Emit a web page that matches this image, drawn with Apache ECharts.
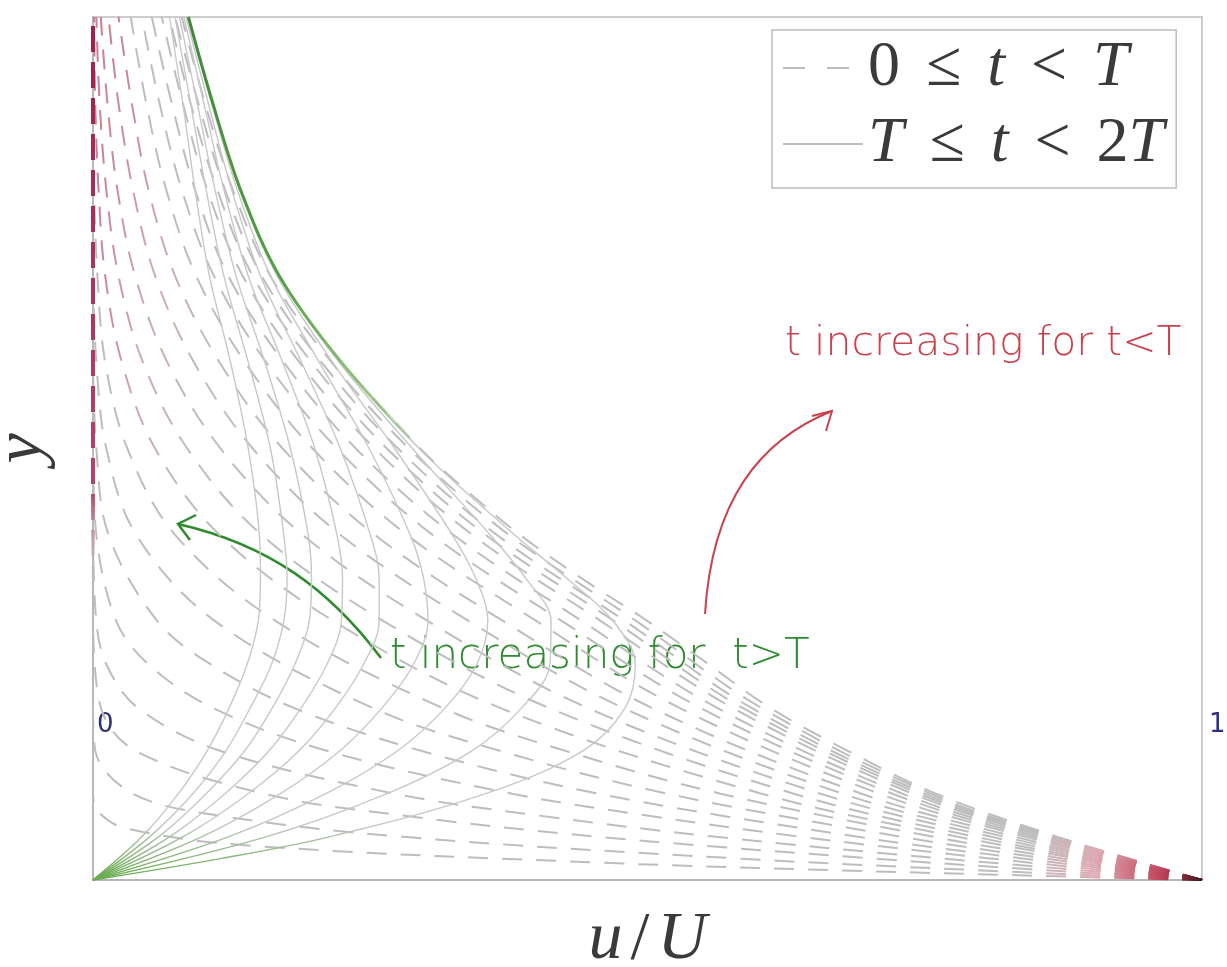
<!DOCTYPE html>
<html>
<head>
<meta charset="utf-8">
<title>u/U profiles</title>
<script src="https://cdn.jsdelivr.net/npm/echarts@6/dist/echarts.min.js"></script>
<style>
  html, body { margin: 0; padding: 0; background: #fff; }
  #chart { width: 1227px; height: 967px; }
</style>
</head>
<body>
<div id="chart"></div>
<script>
// profiles, points are [u/U, y] with y scaled 0..1
// 0 <= t < T (dashed), first one is t = T
const envelope = [[1, 0], [0.87, 0.05], [0.76, 0.1], [0.68, 0.15], [0.61, 0.2], [0.555, 0.25], [0.5, 0.3], [0.44, 0.35], [0.385, 0.4], [0.338, 0.45], [0.295, 0.5], [0.224, 0.6], [0.168, 0.7], [0.133, 0.8], [0.108, 0.9], [0.086, 1]];
const dash01 = [[1, 0], [0.867, 0.05], [0.755, 0.1], [0.602, 0.2], [0.49, 0.3], [0.375, 0.4], [0.285, 0.5], [0.215, 0.6], [0.16, 0.7], [0.126, 0.8], [0.101, 0.9], [0.08, 1]];
const dash02 = [[1, 0], [0.864, 0.05], [0.75, 0.1], [0.593, 0.2], [0.48, 0.3], [0.364, 0.4], [0.275, 0.5], [0.206, 0.6], [0.152, 0.7], [0.119, 0.8], [0.095, 0.9], [0.074, 1]];
const dash03 = [[1, 0], [0.861, 0.05], [0.745, 0.1], [0.585, 0.2], [0.47, 0.3], [0.354, 0.4], [0.265, 0.5], [0.197, 0.6], [0.144, 0.7], [0.112, 0.8], [0.088, 0.9], [0.069, 1]];
const dash04 = [[1, 0], [0.858, 0.05], [0.739, 0.1], [0.576, 0.2], [0.458, 0.3], [0.342, 0.4], [0.254, 0.5], [0.186, 0.6], [0.135, 0.7], [0.103, 0.8], [0.081, 0.9], [0.062, 1]];
const dash05 = [[1, 0], [0.853, 0.05], [0.73, 0.1], [0.562, 0.2], [0.441, 0.3], [0.325, 0.4], [0.237, 0.5], [0.172, 0.6], [0.122, 0.7], [0.092, 0.8], [0.071, 0.9], [0.053, 1]];
const dash06 = [[1, 0], [0.847, 0.05], [0.721, 0.1], [0.547, 0.2], [0.423, 0.3], [0.306, 0.4], [0.22, 0.5], [0.156, 0.6], [0.109, 0.7], [0.08, 0.8], [0.06, 0.9], [0.044, 1]];
const dash07 = [[1, 0], [0.841, 0.05], [0.709, 0.1], [0.528, 0.2], [0.4, 0.3], [0.283, 0.4], [0.198, 0.5], [0.137, 0.6], [0.093, 0.7], [0.066, 0.8], [0.048, 0.9], [0.034, 1]];
const dash08 = [[1, 0], [0.832, 0.05], [0.693, 0.1], [0.503, 0.2], [0.37, 0.3], [0.254, 0.4], [0.171, 0.5], [0.114, 0.6], [0.074, 0.7], [0.05, 0.8], [0.035, 0.9], [0.023, 1]];
const dash09 = [[1, 0], [0.822, 0.05], [0.676, 0.1], [0.477, 0.2], [0.339, 0.3], [0.223, 0.4], [0.144, 0.5], [0.091, 0.6], [0.056, 0.7], [0.036, 0.8], [0.023, 0.9], [0.014, 1]];
const dash10 = [[1, 0], [0.81, 0.05], [0.656, 0.1], [0.445, 0.2], [0.302, 0.3], [0.189, 0.4], [0.115, 0.5], [0.067, 0.6], [0.038, 0.7], [0.022, 0.8], [0.013, 0.9], [0.007, 1]];
const dash11 = [[1, 0], [0.796, 0.05], [0.632, 0.1], [0.41, 0.2], [0.262, 0.3], [0.152, 0.4], [0.085, 0.5], [0.045, 0.6], [0.023, 0.7], [0.012, 0.8], [0.006, 0.9], [0.003, 1]];
const dash12 = [[1, 0], [0.78, 0.05], [0.603, 0.1], [0.366, 0.2], [0.217, 0.3], [0.114, 0.4], [0.056, 0.5], [0.026, 0.6], [0.011, 0.7], [0.005, 0.8], [0.002, 0.9], [0.001, 1]];
const dash13 = [[1, 0], [0.874, 0.025], [0.758, 0.05], [0.566, 0.1], [0.425, 0.15], [0.314, 0.2], [0.165, 0.3], [0.074, 0.4], [0.031, 0.5], [0.011, 0.6], [0.004, 0.7], [0.001, 0.8], [0, 0.9]];
const dash14 = [[1, 0], [0.859, 0.025], [0.729, 0.05], [0.518, 0.1], [0.366, 0.15], [0.251, 0.2], [0.11, 0.3], [0.039, 0.4], [0.012, 0.5], [0.003, 0.6], [0, 0.7]];
const dash15 = [[1, 0], [0.838, 0.025], [0.69, 0.05], [0.456, 0.1], [0.295, 0.15], [0.18, 0.2], [0.106, 0.25], [0.058, 0.3], [0.014, 0.4], [0.003, 0.5], [0, 0.6]];
const dash16 = [[1, 0], [0.809, 0.025], [0.639, 0.05], [0.498, 0.075], [0.378, 0.1], [0.21, 0.15], [0.107, 0.2], [0.05, 0.25], [0.021, 0.3], [0.003, 0.4], [0, 0.5]];
const dash17 = [[1, 0], [0.765, 0.025], [0.562, 0.05], [0.4, 0.075], [0.272, 0.1], [0.114, 0.15], [0.04, 0.2], [0.012, 0.25], [0.003, 0.3], [0, 0.4]];
const dash18 = [[1, 0], [0.845, 0.0125], [0.702, 0.025], [0.456, 0.05], [0.277, 0.075], [0.154, 0.1], [0.038, 0.15], [0.007, 0.2], [0, 0.3]];
const dash19 = [[1, 0], [0.778, 0.0125], [0.58, 0.025], [0.28, 0.05], [0.112, 0.075], [0.036, 0.1], [0.002, 0.15], [0, 0.2]];
const dash20 = [[1, 0], [0.705, 0.01], [0.46, 0.02], [0.14, 0.04], [0.029, 0.06], [0.004, 0.08], [0, 0.1]];
const startProfile = [[0, 0], [0, 1]]; // t = 0

// T <= t < 2T (solid), plate at rest, from late to early
const solid1 = [[0, 0], [0.044, 0.05], [0.077, 0.1], [0.103, 0.15], [0.123, 0.2], [0.139, 0.25], [0.149, 0.3], [0.151, 0.35], [0.15, 0.4], [0.14, 0.5], [0.124, 0.6], [0.105, 0.7], [0.092, 0.8], [0.081, 0.9], [0.069, 1]];
const solid2 = [[0, 0], [0.051, 0.05], [0.09, 0.1], [0.12, 0.15], [0.142, 0.2], [0.161, 0.25], [0.172, 0.3], [0.175, 0.35], [0.172, 0.4], [0.16, 0.5], [0.14, 0.6], [0.118, 0.7], [0.102, 0.8], [0.088, 0.9], [0.074, 1]];
const solid3 = [[0, 0], [0.059, 0.05], [0.102, 0.1], [0.137, 0.15], [0.162, 0.2], [0.182, 0.25], [0.195, 0.3], [0.197, 0.35], [0.194, 0.4], [0.178, 0.5], [0.155, 0.6], [0.129, 0.7], [0.11, 0.8], [0.094, 0.9], [0.078, 1]];
const solid4 = [[0, 0], [0.069, 0.05], [0.119, 0.1], [0.159, 0.15], [0.188, 0.2], [0.211, 0.25], [0.224, 0.3], [0.225, 0.35], [0.22, 0.4], [0.2, 0.5], [0.171, 0.6], [0.14, 0.7], [0.118, 0.8], [0.1, 0.9], [0.082, 1]];
const solid5 = [[0, 0], [0.081, 0.05], [0.14, 0.1], [0.186, 0.15], [0.219, 0.2], [0.244, 0.25], [0.258, 0.3], [0.258, 0.35], [0.25, 0.4], [0.223, 0.5], [0.188, 0.6], [0.151, 0.7], [0.125, 0.8], [0.104, 0.9], [0.084, 1]];
const solid6 = [[0, 0], [0.098, 0.05], [0.169, 0.1], [0.223, 0.15], [0.261, 0.2], [0.289, 0.25], [0.302, 0.3], [0.298, 0.35], [0.286, 0.4], [0.249, 0.5], [0.204, 0.6], [0.16, 0.7], [0.13, 0.8], [0.107, 0.9], [0.086, 1]];
const solid7 = [[0, 0], [0.122, 0.05], [0.21, 0.1], [0.275, 0.15], [0.318, 0.2], [0.346, 0.25], [0.356, 0.3], [0.345, 0.35], [0.324, 0.4], [0.272, 0.5], [0.216, 0.6], [0.166, 0.7], [0.132, 0.8], [0.108, 0.9], [0.086, 1]];
const solid8 = [[0, 0], [0.156, 0.05], [0.265, 0.1], [0.342, 0.15], [0.387, 0.2], [0.412, 0.25], [0.413, 0.3], [0.39, 0.35], [0.358, 0.4], [0.288, 0.5], [0.222, 0.6], [0.168, 0.7], [0.133, 0.8], [0.108, 0.9], [0.086, 1]];
const solid9 = [[0, 0], [0.116, 0.025], [0.213, 0.05], [0.354, 0.1], [0.442, 0.15], [0.48, 0.2], [0.489, 0.25], [0.469, 0.3], [0.427, 0.35], [0.38, 0.4], [0.294, 0.5], [0.224, 0.6], [0.168, 0.7], [0.133, 0.8], [0.108, 0.9], [0.086, 1]];

const legendLabels = ['0 ≤ t < T', 'T ≤ t < 2T'];

const greyDash = '#bdbdbd';
const greySolid = '#c8c8c8';

const chart = echarts.init(document.getElementById('chart'));

function grad(x2, y2, stops) {
    return new echarts.graphic.LinearGradient(0, 0, x2, y2,
        stops.map(([offset, color]) => ({ offset, color })));
}

// pink near the corner, and near the wall at the top for the curves that hug it
function dashColour(pinkLeft) {
    const stops = [];
    if (pinkLeft) stops.push([0, '#c77d8f'], [0.04, '#d0a9b1'], [0.09, greyDash]);
    else stops.push([0, greyDash]);
    stops.push([0.84, greyDash], [0.9, '#dcaab3'], [0.96, '#c2455c'], [1, '#3d1418']);
    return grad(1, 0, stops);
}

const dashedSets = [envelope, dash01, dash02, dash03, dash04, dash05, dash06, dash07, dash08, dash09,
    dash10, dash11, dash12, dash13, dash14, dash15, dash16, dash17, dash18, dash19, dash20];
const solidSets = [solid1, solid2, solid3, solid4, solid5, solid6, solid7, solid8, solid9];

const series = [];
dashedSets.forEach((data, i) => {
    series.push({
        name: legendLabels[0],
        type: 'line',
        data,
        smooth: 0.35,
        symbol: 'none',
        silent: true,
        color: greyDash,
        z: 2,
        lineStyle: { color: dashColour(i >= 8 && i <= 12), width: 2, type: [20, 14] }
    });
});
series.push({
    name: legendLabels[0],
    type: 'line',
    data: startProfile,
    symbol: 'none',
    silent: true,
    color: greyDash,
    z: 3,
    lineStyle: {
        width: 4, type: [26, 10],
        color: grad(0, 1, [[0, '#9e2149'], [0.55, '#b4456a'], [0.66, 'rgba(200,200,200,0)'], [1, 'rgba(200,200,200,0)']])
    }
});
solidSets.forEach((data) => {
    series.push({
        name: legendLabels[1],
        type: 'line',
        data,
        smooth: 0.35,
        symbol: 'none',
        silent: true,
        color: greySolid,
        z: 3,
        lineStyle: {
            width: 1.4,
            color: grad(0, 1, [[0, greySolid], [0.93, greySolid], [1, '#5faa45']])
        }
    });
});
// the t = T profile once the plate stops, green where the later curves pile onto it
series.push({
    name: legendLabels[1],
    type: 'line',
    data: envelope.filter((p) => p[1] >= 0.5),
    smooth: 0.35,
    symbol: 'none',
    silent: true,
    color: greySolid,
    z: 4,
    lineStyle: {
        width: 3,
        color: grad(0, 1, [[0, '#3f8a35'], [0.6, '#52a043'], [0.9, 'rgba(120,190,95,0.6)'], [1, 'rgba(140,200,110,0)']])
    }
});

const hand = '"DejaVu Sans", sans-serif';
const serif = '"Liberation Serif", serif';
const ink = '#3a3a3a';

const option = {
    backgroundColor: '#fff',
    animation: false,
    grid: {
        left: 93, right: 25, top: 17, bottom: 87,
        outerBoundsMode: 'none',
        show: true, borderColor: '#bdbdbd', borderWidth: 1.5
    },
    xAxis: {
        type: 'value', min: 0, max: 1,
        name: '{i|u}{g|}{r|/}{g|}{i|U}',
        nameLocation: 'middle', nameGap: 26,
        nameTextStyle: {
            rich: {
                i: { fontFamily: serif, fontStyle: 'italic', fontSize: 68, color: ink },
                r: { fontFamily: serif, fontSize: 68, color: ink },
                g: { width: 8 }
            }
        },
        axisLine: { show: true, lineStyle: { color: '#b0b0b0', width: 1.5 } },
        axisTick: { show: false }, axisLabel: { show: false }, splitLine: { show: false }
    },
    yAxis: {
        type: 'value', min: 0, max: 1,
        name: 'y',
        nameLocation: 'middle', nameGap: 36,
        nameTextStyle: { fontFamily: serif, fontStyle: 'italic', fontSize: 68, color: ink },
        axisLine: { show: true, lineStyle: { color: '#b0b0b0', width: 1.5 } },
        axisTick: { show: false }, axisLabel: { show: false }, splitLine: { show: false }
    },
    legend: {
        orient: 'vertical',
        left: 772, top: 30,
        padding: [6, 12, 12, 10],
        itemGap: 12,
        itemWidth: 80, itemHeight: 16,
        selectedMode: false,
        borderColor: '#bdbdbd', borderWidth: 1.5,
        backgroundColor: '#fff',
        itemStyle: { opacity: 0 },
        data: [
            { name: legendLabels[0], itemStyle: { opacity: 0 }, lineStyle: { color: greyDash, width: 2, type: [22, 22] } },
            { name: legendLabels[1], itemStyle: { opacity: 0 }, lineStyle: { color: greyDash, width: 2, type: 'solid' } }
        ],
        formatter: (name) => name === legendLabels[0]
            ? '{r|0}{g|}{r|≤}{g|}{i|t}{g|}{r|<}{g|}{i|T}'
            : '{i|T}{g|}{r|≤}{g|}{i|t}{g|}{r|<}{g|}{r|2}{i|T}',
        textStyle: {
            rich: {
                r: { fontFamily: serif, fontSize: 64, color: ink, lineHeight: 72 },
                i: { fontFamily: serif, fontStyle: 'italic', fontSize: 64, color: ink, lineHeight: 72 },
                g: { width: 26 }
            }
        }
    },
    graphic: [
        { type: 'text', left: 97, top: 712, style: { text: '0', fontFamily: hand, fontSize: 26, fill: '#2b2f7d' } },
        { type: 'text', left: 1209, top: 712, style: { text: '1', fontFamily: hand, fontSize: 26, fill: '#2b2f7d' } },
        { type: 'text', left: 785, top: 324, style: { text: 't increasing for t<T', fontFamily: hand, fontWeight: 200, fontSize: 41, fill: '#c9434f' } },
        { type: 'bezierCurve', shape: { x1: 705, y1: 614, cpx1: 712, cpy1: 500, cpx2: 760, cpy2: 440, x2: 832, y2: 411 },
          style: { stroke: '#c9434f', lineWidth: 2, fill: null } },
        { type: 'polyline', shape: { points: [[812, 416], [832, 411], [826, 431]] }, style: { stroke: '#c9434f', lineWidth: 2, fill: null } },
        { type: 'text', left: 390, top: 636, style: { text: 't increasing for  t>T', fontFamily: hand, fontWeight: 200, fontSize: 42, fill: '#2e8b2e' } },
        { type: 'bezierCurve', shape: { x1: 381, y1: 658, cpx1: 330, cpy1: 590, cpx2: 270, cpy2: 545, x2: 178, y2: 524 },
          style: { stroke: '#2e8b2e', lineWidth: 2.5, fill: null } },
        { type: 'polyline', shape: { points: [[196, 515], [178, 524], [190, 540]] }, style: { stroke: '#2e8b2e', lineWidth: 2.5, fill: null } }
    ],
    series
};

chart.setOption(option);

window.addEventListener('resize', () => chart.resize());
</script>
</body>
</html>
